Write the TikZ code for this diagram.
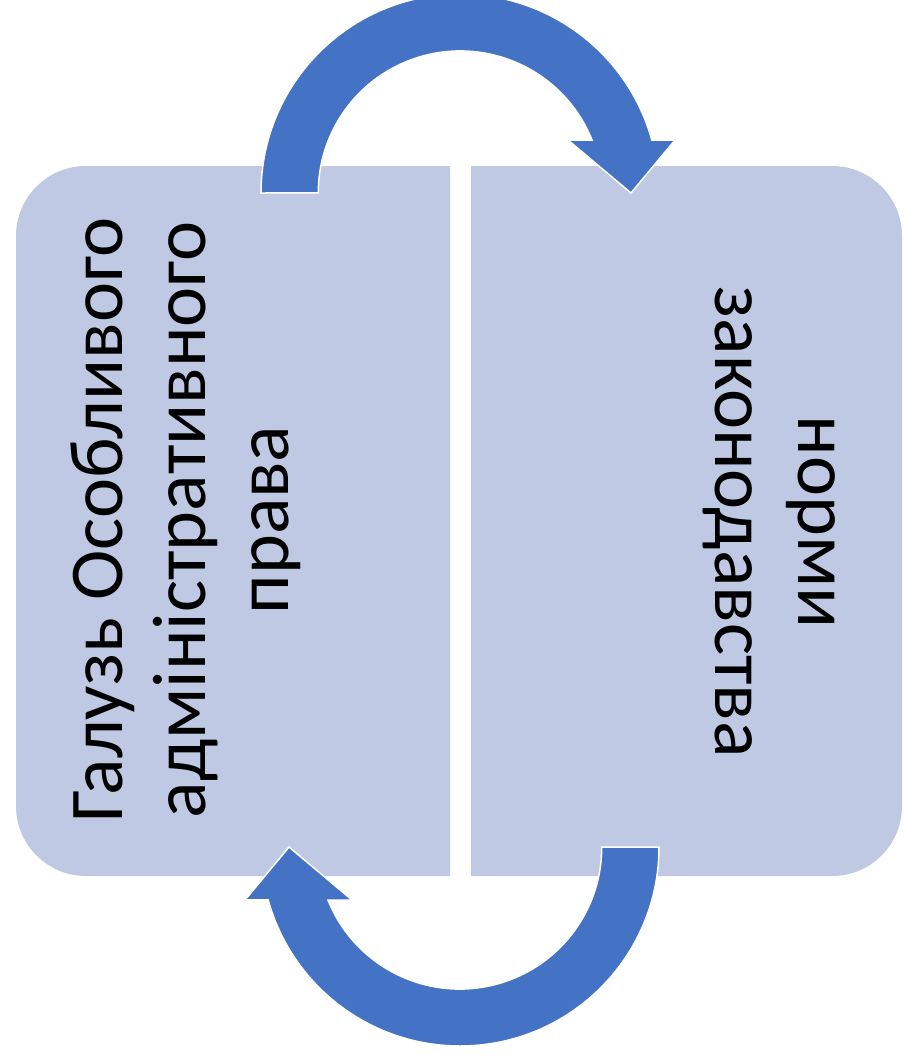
\documentclass[tikz,border=0pt]{standalone}
\usepackage{fontspec}
\setmainfont{Carlito}
\definecolor{boxfill}{RGB}{191,201,227}
\definecolor{arrowblue}{RGB}{68,114,196}
\begin{document}
\begin{tikzpicture}[x=1pt,y=1pt,
  panel/.style={fill=boxfill},
  bigarrow/.style={fill=arrowblue,draw=white,line width=1.5pt,line join=miter},
  label/.style={font=\fontsize{76}{83}\selectfont,align=center,text=black,inner sep=0pt}]
\useasboundingbox (0,0) rectangle (903,-1055);
% boxes
\fill[panel] (450,-166) -- (86,-166) arc[start angle=90,end angle=180,radius=70]
  -- (16,-806) arc[start angle=180,end angle=270,radius=70] -- (450,-876) -- cycle;
\fill[panel] (471,-166) -- (832,-166) arc[start angle=90,end angle=0,radius=70]
  -- (902,-806) arc[start angle=0,end angle=-90,radius=70] -- (471,-876) -- cycle;
\coordinate (lbox) at (233,-521);
\coordinate (rbox) at (686,-521);
% top arrow
\coordinate (c1) at (460,-193);
\filldraw[bigarrow] (261,-193) arc[start angle=180,end angle=15.4,radius=199]
  -- (675,-140) -- (631,-193) -- (568,-140) -- (592,-140)
  arc[start angle=21.9,end angle=180,radius=142] -- cycle;
% bottom arrow (same shape turned half a turn)
\begin{scope}[rotate around={180:(460,-520)}]
\filldraw[bigarrow] (261,-193) arc[start angle=180,end angle=15.4,radius=199]
  -- (675,-140) -- (631,-193) -- (568,-140) -- (592,-140)
  arc[start angle=21.9,end angle=180,radius=142] -- cycle;
\end{scope}
% texts
\node[label,rotate=90] (t1) at (186,-520) {Галузь Особливого\\адміністративного\\права};
\node[label,rotate=-90] (t2) at (769,-522) {норми\\законодавства};
\end{tikzpicture}
\end{document}
